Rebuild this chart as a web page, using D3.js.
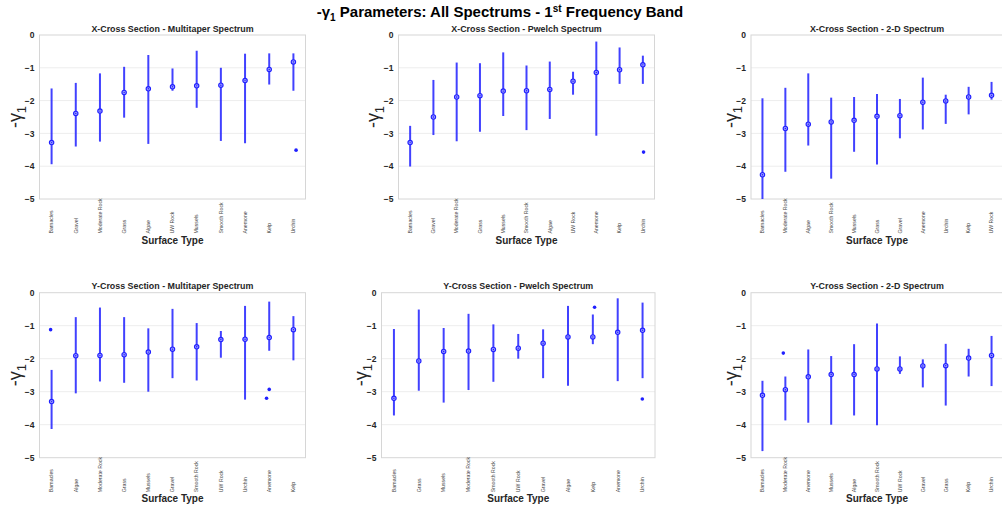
<!DOCTYPE html>
<html><head><meta charset="utf-8">
<script src="https://cdn.jsdelivr.net/npm/d3@7"></script>
<style>
html,body{margin:0;padding:0;background:#fff;}
svg{display:block;font-family:"Liberation Sans",Arial,Helvetica,sans-serif;}
</style></head>
<body><svg id="chart" width="1002" height="510"></svg>
<script>
// ---------- DATA ----------
const yTicks = [0, -1, -2, -3, -4, -5];
const xLabelText = "Surface Type";

// Panel 1: X-Cross Section - Multitaper Spectrum
const p1Title = "X-Cross Section - Multitaper Spectrum";
const p1Cats = ["Barnacles","Gravel","Moderate Rock","Grass","Algae","UW Rock","Mussels","Smooth Rock","Anemone","Kelp","Urchin"];
const p1Low  = [-3.94,-3.40,-3.25,-2.52,-3.32,-1.70,-2.22,-3.23,-3.30,-1.51,-1.70];
const p1Med  = [-3.28,-2.39,-2.32,-1.75,-1.64,-1.58,-1.55,-1.53,-1.39,-1.05,-0.82];
const p1High = [-1.63,-1.46,-1.17,-0.97,-0.61,-1.02,-0.48,-1.00,-0.57,-0.56,-0.56];
const p1OutCat = ["Urchin"];
const p1OutVal = [-3.51];
const p1OutJit = [0.11];

// Panel 2: X-Cross Section - Pwelch Spectrum
const p2Title = "X-Cross Section - Pwelch Spectrum";
const p2Cats = ["Barnacles","Gravel","Moderate Rock","Grass","Mussels","Smooth Rock","Algae","UW Rock","Anemone","Kelp","Urchin"];
const p2Low  = [-4.01,-3.05,-3.24,-2.95,-2.47,-2.90,-2.56,-1.82,-3.07,-1.49,-1.49];
const p2Med  = [-3.28,-2.50,-1.89,-1.85,-1.71,-1.70,-1.66,-1.41,-1.14,-1.06,-0.91];
const p2High = [-2.77,-1.37,-0.84,-0.86,-0.53,-0.93,-0.81,-1.12,-0.20,-0.38,-0.63];
const p2OutCat = ["Urchin"];
const p2OutVal = [-3.57];
const p2OutJit = [0.03];

// Panel 3: X-Cross Section - 2-D Spectrum
const p3Title = "X-Cross Section - 2-D Spectrum";
const p3Cats = ["Barnacles","Moderate Rock","Algae","Smooth Rock","Mussels","Grass","Gravel","Anemone","Urchin","Kelp","UW Rock"];
const p3Low  = [-5.00,-4.17,-3.37,-4.38,-3.56,-3.95,-3.15,-2.88,-2.71,-2.42,-1.97];
const p3Med  = [-4.26,-2.85,-2.72,-2.65,-2.60,-2.48,-2.46,-2.05,-2.01,-1.89,-1.84];
const p3High = [-1.93,-1.61,-1.17,-1.91,-1.89,-1.80,-1.95,-1.30,-1.82,-1.58,-1.43];
const p3OutCat = [];
const p3OutVal = [];
const p3OutJit = [];

// Panel 4: Y-Cross Section - Multitaper Spectrum
const p4Title = "Y-Cross Section - Multitaper Spectrum";
const p4Cats = ["Barnacles","Algae","Moderate Rock","Grass","Mussels","Gravel","Smooth Rock","UW Rock","Urchin","Anemone","Kelp"];
const p4Low  = [-4.13,-3.05,-2.69,-2.73,-3.00,-2.59,-2.66,-1.97,-3.24,-1.76,-2.05];
const p4Med  = [-3.30,-1.91,-1.90,-1.88,-1.80,-1.71,-1.64,-1.42,-1.41,-1.36,-1.12];
const p4High = [-2.34,-0.74,-0.45,-0.74,-1.08,-0.49,-0.92,-1.16,-0.40,-0.27,-0.71];
const p4OutCat = ["Barnacles","Anemone","Anemone"];
const p4OutVal = [-1.12,-2.93,-3.20];
const p4OutJit = [-0.04,0.0,-0.11];

// Panel 5: Y-Cross Section - Pwelch Spectrum
const p5Title = "Y-Cross Section - Pwelch Spectrum";
const p5Cats = ["Barnacles","Grass","Mussels","Moderate Rock","Smooth Rock","UW Rock","Gravel","Algae","Kelp","Anemone","Urchin"];
const p5Low  = [-3.72,-2.97,-3.33,-2.95,-2.70,-2.00,-2.59,-2.82,-1.56,-2.68,-2.59];
const p5Med  = [-3.20,-2.07,-1.78,-1.77,-1.72,-1.68,-1.53,-1.34,-1.34,-1.20,-1.14];
const p5High = [-1.10,-0.51,-1.07,-0.64,-0.96,-1.25,-1.11,-0.40,-0.66,-0.17,-0.30];
const p5OutCat = ["Kelp","Urchin"];
const p5OutVal = [-0.44,-3.22];
const p5OutJit = [0.07,-0.01];

// Panel 6: Y-Cross Section - 2-D Spectrum
const p6Title = "Y-Cross Section - 2-D Spectrum";
const p6Cats = ["Barnacles","Moderate Rock","Anemone","Mussels","Algae","Smooth Rock","UW Rock","Gravel","Grass","Kelp","Urchin"];
const p6Low  = [-4.80,-3.87,-3.94,-4.00,-3.72,-4.02,-2.46,-2.87,-3.42,-2.54,-2.83];
const p6Med  = [-3.11,-2.94,-2.55,-2.48,-2.48,-2.31,-2.31,-2.22,-2.21,-1.98,-1.90];
const p6High = [-2.67,-2.54,-1.72,-1.92,-1.56,-0.93,-1.93,-2.02,-1.55,-1.70,-1.31];
const p6OutCat = ["Moderate Rock"];
const p6OutVal = [-1.83];
const p6OutJit = [-0.09];

// ---------- LAYOUT ----------
const svg = d3.select("#chart");
const blue = "#2020ff";
const txt = "#262626";

const panels = [
  {title:p1Title,cats:p1Cats,low:p1Low,med:p1Med,high:p1High,oc:p1OutCat,ov:p1OutVal,oj:p1OutJit, L:39.5,R:305.5,T:35,B:199,yl:16},
  {title:p2Title,cats:p2Cats,low:p2Low,med:p2Med,high:p2High,oc:p2OutCat,ov:p2OutVal,oj:p2OutJit, L:398.5,R:654.5,T:35,B:199,yl:374},
  {title:p3Title,cats:p3Cats,low:p3Low,med:p3Med,high:p3High,oc:p3OutCat,ov:p3OutVal,oj:p3OutJit, L:751,R:1003,T:35,B:199,yl:732},
  {title:p4Title,cats:p4Cats,low:p4Low,med:p4Med,high:p4High,oc:p4OutCat,ov:p4OutVal,oj:p4OutJit, L:39.5,R:305.5,T:292.7,B:457.7,yl:16},
  {title:p5Title,cats:p5Cats,low:p5Low,med:p5Med,high:p5High,oc:p5OutCat,ov:p5OutVal,oj:p5OutJit, L:381.5,R:655,T:292.7,B:457.7,yl:362},
  {title:p6Title,cats:p6Cats,low:p6Low,med:p6Med,high:p6High,oc:p6OutCat,ov:p6OutVal,oj:p6OutJit, L:751,R:1003,T:292.7,B:457.7,yl:732}
];

// main title
const mt = svg.append("text").attr("x", 500).attr("y", 17).attr("text-anchor","middle")
  .attr("font-size", 15).attr("font-weight","bold").attr("fill","#000");
mt.append("tspan").text("-\u03B3");
mt.append("tspan").attr("font-size",10).attr("dy",4).text("1");
mt.append("tspan").attr("dy",-4).text(" Parameters: All Spectrums - 1");
mt.append("tspan").attr("font-size",10).attr("dy",-5).text("st");
mt.append("tspan").attr("dy",5).text(" Frequency Band");

panels.forEach(p => {
  const g = svg.append("g");
  const x = d3.scaleBand().domain(p.cats).range([p.L, p.R]).padding(0);
  const y = d3.scaleLinear().domain([-5, 0]).range([p.B, p.T]);
  const cx = c => x(c) + x.bandwidth() / 2;

  // grid lines
  g.selectAll("line.grid").data(yTicks.filter(t => t > -5 && t < 0)).join("line")
    .attr("x1", p.L).attr("x2", p.R).attr("y1", d => y(d)).attr("y2", d => y(d))
    .attr("stroke", "#ededed").attr("stroke-width", 1);

  // frame
  g.append("rect").attr("x", p.L).attr("y", p.T).attr("width", p.R - p.L).attr("height", p.B - p.T)
    .attr("fill", "none").attr("stroke", "#d6d6d6").attr("stroke-width", 1);

  // y axis labels
  const yAxis = d3.axisLeft(y).tickValues(yTicks).tickFormat(d3.format("d")).tickSize(0).tickPadding(5);
  const ya = g.append("g").attr("transform", `translate(${p.L},0)`).call(yAxis);
  ya.select(".domain").remove();
  ya.selectAll("text").attr("font-size", 8.5).attr("font-weight", "bold").attr("fill", txt)
    .attr("font-family", "Liberation Sans, Arial, sans-serif");

  // x tick labels (rotated)
  const xa = g.append("g");
  xa.selectAll("text").data(p.cats).join("text")
    .attr("transform", d => `translate(${cx(d) + 1.8},${p.B + 34.5}) rotate(-90)`)
    .attr("text-anchor", "start").attr("font-size", 5.2).attr("fill", "#444").text(d => d);

  // title
  g.append("text").attr("x", (p.L + p.R) / 2).attr("y", p.T - 3.5)
    .attr("text-anchor", "middle").attr("font-size", 8.9).attr("font-weight", "bold").attr("fill", txt)
    .text(p.title);

  // x label
  g.append("text").attr("x", (p.L + p.R) / 2).attr("y", p.B + 44.5)
    .attr("text-anchor", "middle").attr("font-size", 10).attr("font-weight", "bold").attr("fill", txt)
    .text(xLabelText);

  // y label
  const yl = g.append("text").attr("transform", `translate(${p.yl + 5},${(p.T + p.B) / 2}) rotate(-90)`)
    .attr("text-anchor", "middle").attr("font-size", 18).attr("fill", txt);
  yl.append("tspan").text("-\u03B3");
  yl.append("tspan").attr("font-size", 13).attr("dy", 5).text("1");

  // whiskers
  const rows = p.cats.map((c, i) => ({c, lo: p.low[i], md: p.med[i], hi: p.high[i]}));
  g.selectAll("line.box").data(rows).join("line")
    .attr("x1", d => cx(d.c)).attr("x2", d => cx(d.c))
    .attr("y1", d => y(d.lo)).attr("y2", d => y(d.hi))
    .attr("stroke", blue).attr("stroke-width", 2).attr("stroke-opacity", 0.85);

  // median markers
  g.selectAll("circle.med").data(rows).join("circle")
    .attr("cx", d => cx(d.c)).attr("cy", d => y(d.md)).attr("r", 2.2)
    .attr("fill", "#9a9aff").attr("stroke", blue).attr("stroke-width", 1.1);
  g.selectAll("circle.mdot").data(rows).join("circle")
    .attr("cx", d => cx(d.c)).attr("cy", d => y(d.md)).attr("r", 0.7).attr("fill", blue);

  // outliers
  const outs = p.oc.map((c, i) => ({c, v: p.ov[i], j: p.oj[i]}));
  g.selectAll("circle.out").data(outs).join("circle")
    .attr("cx", d => cx(d.c) + d.j * x.bandwidth()).attr("cy", d => y(d.v)).attr("r", 1.8)
    .attr("fill", blue);
});
</script></body></html>
